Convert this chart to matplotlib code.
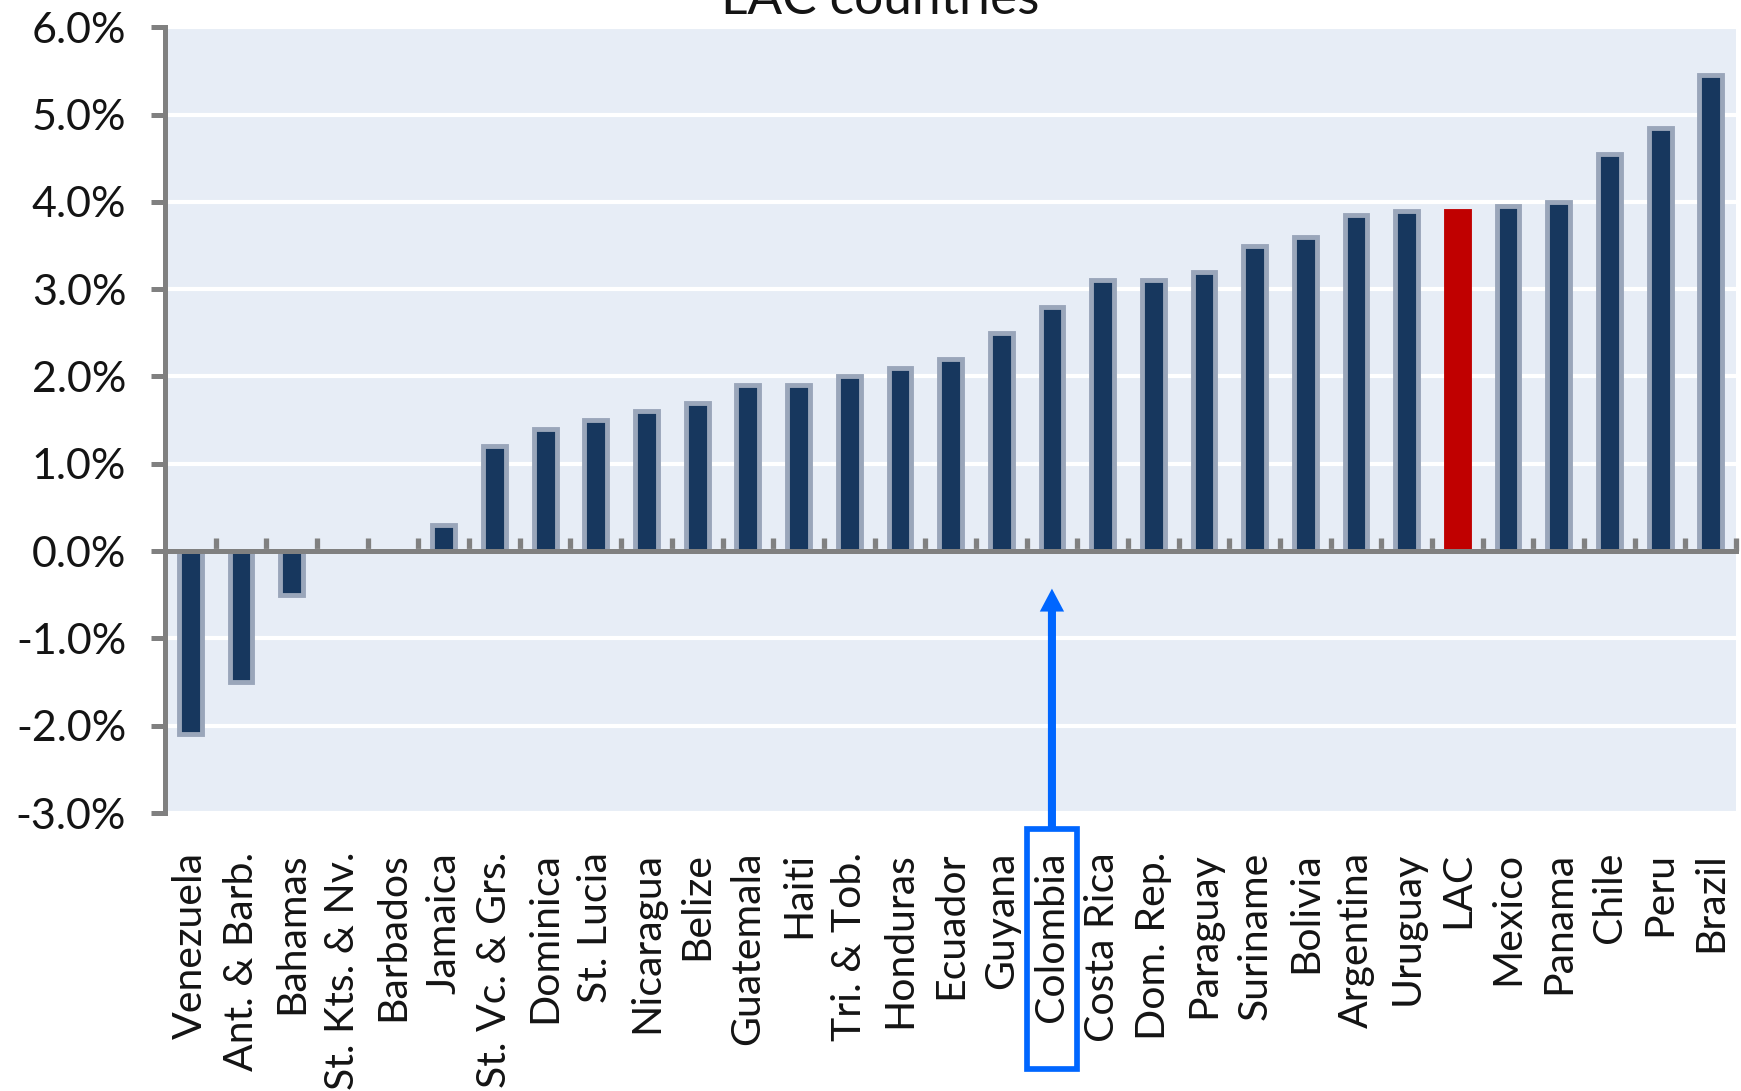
import numpy as np
import matplotlib
matplotlib.use("Agg")
import matplotlib.pyplot as plt
from matplotlib.patches import Rectangle
from matplotlib.ticker import FuncFormatter, FixedLocator

# Average real GDP growth, LAC countries
countries = ["Venezuela", "Ant. & Barb.", "Bahamas", "St. Kts. & Nv.", "Barbados",
             "Jamaica", "St. Vc. & Grs.", "Dominica", "St. Lucia", "Nicaragua",
             "Belize", "Guatemala", "Haiti", "Tri. & Tob.", "Honduras", "Ecuador",
             "Guyana", "Colombia", "Costa Rica", "Dom. Rep.", "Paraguay", "Suriname",
             "Bolivia", "Argentina", "Uruguay", "LAC", "Mexico", "Panama", "Chile",
             "Peru", "Brazil"]
growth = [-2.1, -1.5, -0.5, 0.0, 0.0, 0.3, 1.2, 1.4, 1.5, 1.6, 1.7, 1.9, 1.9, 2.0,
          2.1, 2.2, 2.5, 2.8, 3.1, 3.1, 3.2, 3.5, 3.6, 3.85, 3.9, 3.9, 3.95, 4.0,
          4.55, 4.85, 5.45]
y_ticks = [-3, -2, -1, 0, 1, 2, 3, 4, 5, 6]
title = "LAC countries"
highlight = "LAC"
marked = "Colombia"

NAVY = "#17375E"
HALO = "#9AA6BA"
RED = "#C00000"
GREY = "#808080"
BG = "#E7EDF6"
BLUE = "#0066FF"
TXT = "#141414"

plt.rcParams["font.family"] = ["Lato", "DejaVu Sans"]

fig = plt.figure(figsize=(17.41, 10.91), dpi=100)
ax = fig.add_axes([0.0948, 0.2548, 0.9024, 0.7202])
ax.set_facecolor(BG)

x = np.arange(len(countries))
face = [RED if c == highlight else NAVY for c in countries]
edge = [RED if c == highlight else HALO for c in countries]
ax.bar(x, growth, width=0.45, color=face, edgecolor=edge, linewidth=3.5, zorder=2)

ax.set_xlim(-0.5, len(countries) - 0.5)
ax.set_ylim(y_ticks[0], y_ticks[-1])

# y axis
ax.set_yticks(y_ticks)
ax.yaxis.set_major_formatter(FuncFormatter(lambda v, p: f"{v:.1f}%"))
ax.tick_params(axis="y", direction="out", length=10, width=3.6, color=GREY,
               labelsize=31, labelcolor=TXT, pad=18)
ax.yaxis.grid(True, color="white", linewidth=3.0, zorder=1)
ax.set_axisbelow(True)

# x axis line crossing at zero with tick marks between categories
ax.spines["bottom"].set_position(("data", 0))
ax.spines["bottom"].set_color(GREY)
ax.spines["bottom"].set_linewidth(3.6)
ax.spines["bottom"].set_zorder(3)
ax.spines["left"].set_color(GREY)
ax.spines["left"].set_linewidth(3.6)
ax.spines["top"].set_visible(False)
ax.spines["right"].set_visible(False)
ax.xaxis.set_major_locator(FixedLocator(np.arange(len(countries)) + 0.5))
ax.tick_params(axis="x", direction="in", length=9.5, width=3.8, color=GREY,
               labelbottom=False)

# category labels below the plot area
xtrans = ax.get_xaxis_transform()
for i, name in enumerate(countries):
    ax.annotate(name, xy=(i, 0), xycoords=xtrans, xytext=(0, -28),
                textcoords="offset points", rotation=90, ha="center", va="top",
                fontsize=29.5, color=TXT, annotation_clip=False)

# box and arrow pointing to the marked country
mi = countries.index(marked)
ax.add_patch(Rectangle((mi - 0.5, -0.3254), 1.0, 0.305, transform=xtrans,
                       fill=False, edgecolor=BLUE, linewidth=4.1, clip_on=False,
                       zorder=5))
ax.annotate("", xy=(mi, -0.43), xycoords="data",
            xytext=(mi, -0.0204), textcoords=xtrans,
            arrowprops=dict(arrowstyle="simple,head_length=16.5,head_width=17.5,tail_width=5.8",
                            mutation_scale=1, fc=BLUE, ec="none",
                            shrinkA=0, shrinkB=0),
            annotation_clip=False, zorder=5)

fig.text(880 / 1741, 1 - 14 / 1091, title, ha="center", va="baseline",
         fontsize=37, color=TXT)

fig.savefig("out.png", dpi=100, facecolor="white")
